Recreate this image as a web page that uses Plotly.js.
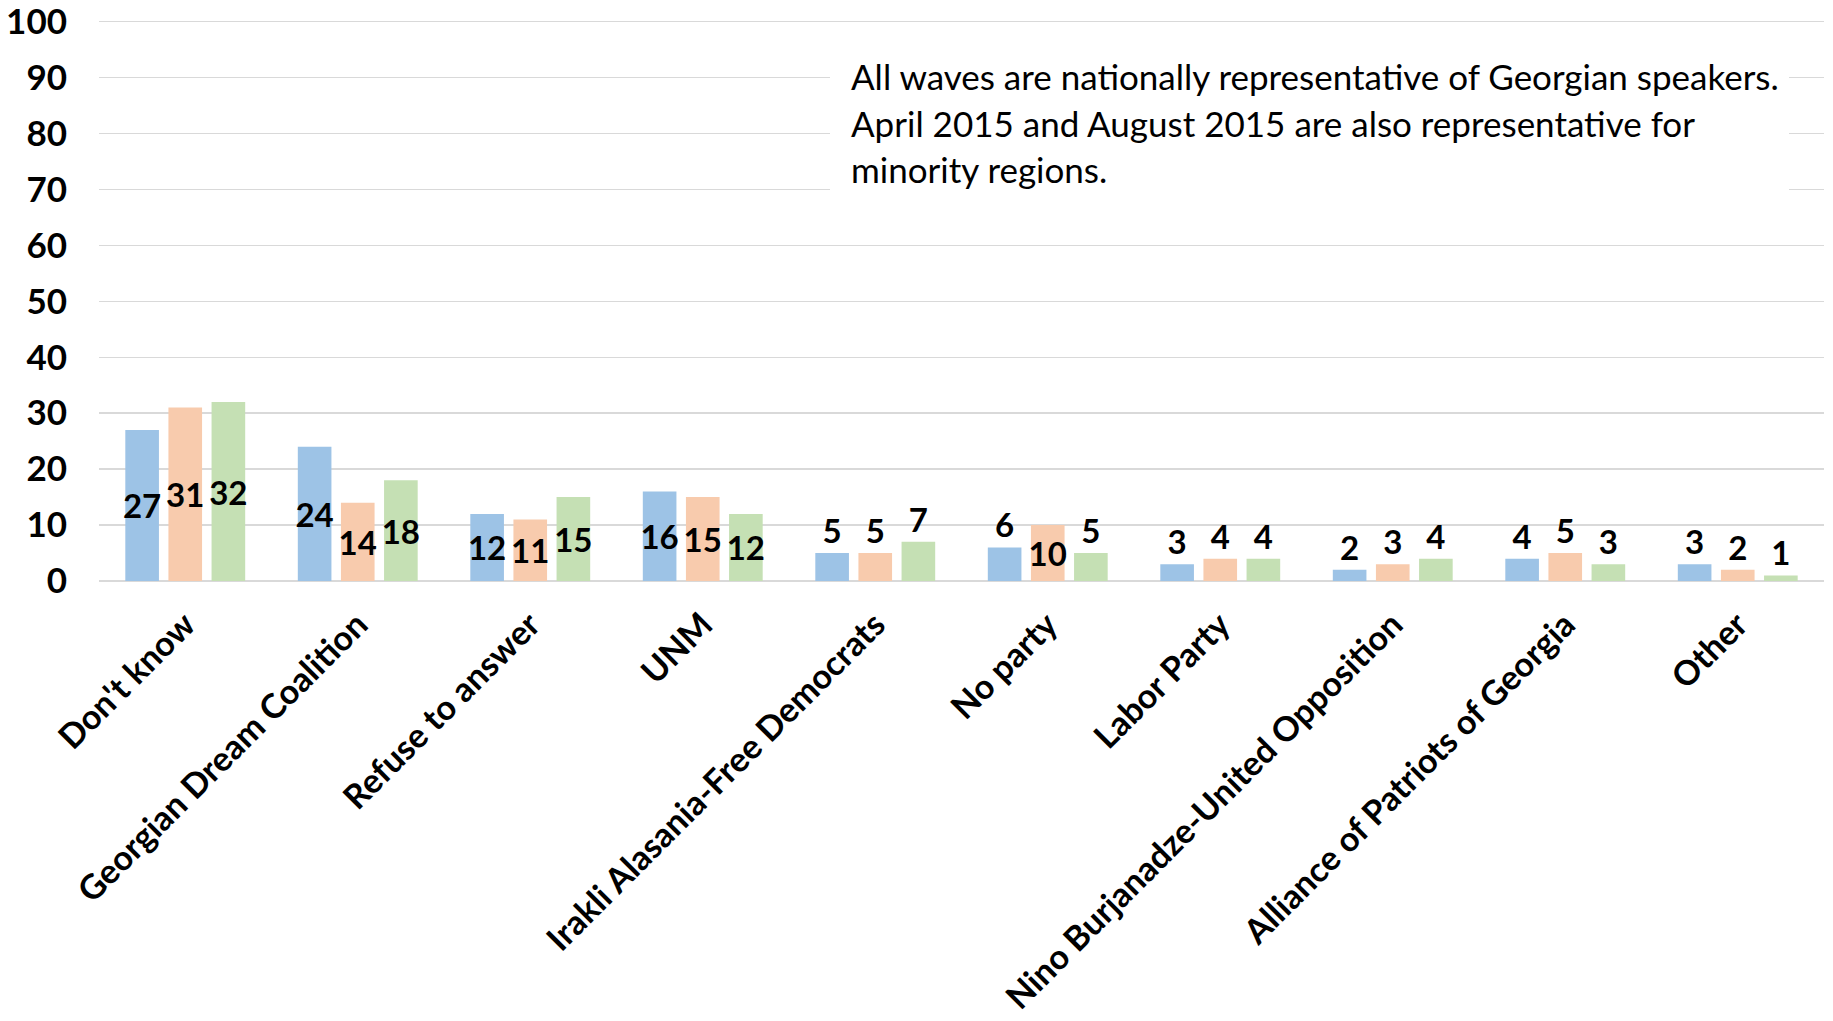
<!DOCTYPE html>
<html>
<head>
<meta charset="utf-8">
<script src="https://cdn.plot.ly/plotly-3.0.1.min.js"></script>
<style>html,body{margin:0;padding:0;background:#fff;}#chart{width:1833px;height:1021px;}</style>
</head>
<body>
<div id="chart"></div>
<script>
const categories = ["Don't know", "Georgian Dream Coalition", "Refuse to answer", "UNM",
  "Irakli Alasania-Free Democrats", "No party", "Labor Party",
  "Nino Burjanadze-United Opposition", "Alliance of Patriots of Georgia", "Other"];
const seriesNames = ["August 2014", "April 2015", "August 2015"];
const wave1 = [27, 24, 12, 16, 5, 6, 3, 2, 4, 3];
const wave2 = [31, 14, 11, 15, 5, 10, 4, 3, 5, 2];
const wave3 = [32, 18, 15, 12, 7, 5, 4, 4, 3, 1];
const yTicks = [0, 10, 20, 30, 40, 50, 60, 70, 80, 90, 100];
const noteLines = [
  "All waves are nationally representative of Georgian speakers.",
  "April 2015 and August 2015 are also representative for",
  "minority regions."
];

const colors = ["#9DC3E6", "#F8CBAD", "#C5E0B4"];
const FONT = "Lato, 'Open Sans', sans-serif";

const traces = [wave1, wave2, wave3].map((vals, i) => ({
  type: "bar",
  name: seriesNames[i],
  x: categories,
  y: vals,
  marker: {color: colors[i]},
  text: vals.map(v => String(v)),
  textposition: vals.map(v => v >= 10 ? "inside" : "outside"),
  insidetextanchor: "middle",
  constraintext: "none",
  cliponaxis: false,
  textfont: {family: FONT, size: 33, color: "#000", weight: 700},
  hoverinfo: "x+y"
}));

// white box behind the note (interrupts the gridlines, as in the original)
const noteBox = {
  xref: "paper", yref: "paper",
  x: 0.424, y: 0.817, xanchor: "left", yanchor: "middle",
  text: " ", showarrow: false,
  width: 959, height: 155, borderpad: 0, borderwidth: 0,
  bgcolor: "#ffffff"
};

const annotations = [noteBox].concat(noteLines.map((t, i) => ({
  xref: "paper", yref: "paper",
  x: 0.435, y: 0.90 - i * 0.083,
  xanchor: "left", yanchor: "middle",
  text: t, showarrow: false, align: "left",
  font: {family: FONT, size: 35, color: "#000"}
})));

const layout = {
  width: 1833, height: 1021,
  margin: {l: 99, r: 9, t: 20, b: 440},
  paper_bgcolor: "#fff", plot_bgcolor: "#fff",
  showlegend: false,
  barmode: "group",
  bargap: 0.25,
  bargroupgap: 0.22,
  xaxis: {
    tickangle: -45,
    tickfont: {family: FONT, size: 34, color: "#000", weight: 700},
    showgrid: false,
    showline: false,
    ticks: "",
    ticklabelstandoff: 16
  },
  yaxis: {
    range: [0, 100.3],
    tickvals: yTicks,
    ticktext: yTicks.map(String),
    tickfont: {family: FONT, size: 35, color: "#000", weight: 700},
    ticklabeloverflow: "allow",
    showgrid: true,
    gridcolor: "#D9D9D9",
    gridwidth: 1.5,
    zeroline: true,
    zerolinecolor: "#D9D9D9",
    zerolinewidth: 1.5,
    ticks: "",
    ticklabelstandoff: 31
  },
  annotations: annotations
};

Plotly.newPlot("chart", traces, layout, {displayModeBar: false, staticPlot: true});
</script>
</body>
</html>
